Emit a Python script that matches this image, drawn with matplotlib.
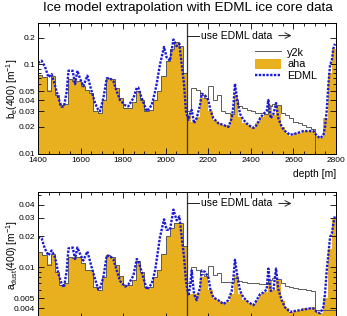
#!/usr/bin/env python
# Ice model extrapolation with EDML ice core data (two log panels)

import numpy as np
import matplotlib
matplotlib.use('Agg')
import matplotlib.pyplot as plt
import matplotlib.ticker as ticker
from matplotlib.lines import Line2D
from matplotlib.patches import Patch

plt.rcParams['font.family'] = ['Liberation Sans', 'DejaVu Sans']
plt.rcParams['mathtext.fontset'] = 'custom'
plt.rcParams['mathtext.rm'] = 'Liberation Sans'
plt.rcParams['mathtext.it'] = 'Liberation Sans'

# Data
bin_edges = np.arange(1400, 2801, 20)

be_aha = [0.076, 0.072, 0.052, 0.075, 0.045, 0.035, 0.036, 0.068, 0.068, 0.065,
          0.058, 0.052, 0.048, 0.030, 0.029, 0.040, 0.070, 0.068, 0.055, 0.042,
          0.033, 0.033, 0.038, 0.050, 0.040, 0.030, 0.031, 0.040, 0.050, 0.075,
          0.110, 0.150, 0.180, 0.160, 0.080,
          0.027, 0.023, 0.026, 0.042, 0.042, 0.030, 0.024, 0.022, 0.021, 0.021,
          0.028, 0.045, 0.026, 0.022, 0.021, 0.020, 0.022, 0.026, 0.028, 0.035,
          0.027, 0.034, 0.020, 0.017, 0.016, 0.017, 0.017, 0.018, 0.018, 0.018,
          0.016, 0.015, 0.025, 0.080, 0.150]

be_y2k = [0.076, 0.072, 0.050, 0.075, 0.045, 0.035, 0.036, 0.068, 0.066, 0.065,
          0.058, 0.052, 0.048, 0.030, 0.029, 0.040, 0.070, 0.068, 0.055, 0.042,
          0.033, 0.033, 0.038, 0.050, 0.040, 0.030, 0.031, 0.040, 0.050, 0.075,
          0.110, 0.150, 0.180, 0.160, 0.080,
          0.030, 0.055, 0.052, 0.045, 0.042, 0.058, 0.040, 0.045, 0.030, 0.029,
          0.028, 0.040, 0.034, 0.033, 0.031, 0.030, 0.029, 0.029, 0.028, 0.034,
          0.036, 0.035, 0.029, 0.027, 0.025, 0.023, 0.022, 0.021, 0.020, 0.019,
          0.008, 0.008, 0.008, 0.008, 0.008]

ad_aha = [0.0140, 0.0130, 0.0107, 0.0135, 0.0090, 0.0068, 0.0070, 0.0125, 0.0125, 0.0125,
          0.0110, 0.0095, 0.0095, 0.0065, 0.0060, 0.0080, 0.0130, 0.0125, 0.0105, 0.0082,
          0.0068, 0.0068, 0.0075, 0.0115, 0.0090, 0.0065, 0.0065, 0.0080, 0.0095, 0.0135,
          0.0200, 0.0240, 0.0270, 0.0270, 0.0160,
          0.0055, 0.0055, 0.0055, 0.0080, 0.0080, 0.0060, 0.0050, 0.0047, 0.0045, 0.0046,
          0.0055, 0.0085, 0.0055, 0.0048, 0.0045, 0.0044, 0.0048, 0.0055, 0.0058, 0.0075,
          0.0060, 0.0075, 0.0047, 0.0040, 0.0037, 0.0038, 0.0039, 0.0040, 0.0040, 0.0041,
          0.0037, 0.0036, 0.0050, 0.0150, 0.0300]

ad_y2k = [0.0140, 0.0130, 0.0105, 0.0135, 0.0090, 0.0068, 0.0070, 0.0125, 0.0122, 0.0125,
          0.0110, 0.0095, 0.0095, 0.0065, 0.0060, 0.0080, 0.0130, 0.0125, 0.0105, 0.0082,
          0.0068, 0.0068, 0.0075, 0.0115, 0.0090, 0.0065, 0.0065, 0.0080, 0.0095, 0.0135,
          0.0200, 0.0240, 0.0270, 0.0270, 0.0160,
          0.0070, 0.0100, 0.0095, 0.0086, 0.0082, 0.0103, 0.0085, 0.0088, 0.0072, 0.0072,
          0.0072, 0.0078, 0.0073, 0.0072, 0.0071, 0.0070, 0.0070, 0.0069, 0.0069, 0.0076,
          0.0078, 0.0077, 0.0070, 0.0066, 0.0064, 0.0063, 0.0062, 0.0061, 0.0060, 0.0059,
          0.0039, 0.0039, 0.0039, 0.0039, 0.0039]

edml_depth = [1400, 1417, 1433, 1449, 1464, 1480, 1496, 1511, 1522, 1535,
              1543, 1563, 1574, 1585, 1597, 1613, 1632, 1652, 1668, 1683,
              1691, 1707, 1723, 1738, 1754, 1770, 1785, 1809, 1824, 1848,
              1864, 1871, 1887, 1911, 1934, 1950, 1957, 1973, 1992, 2004,
              2020, 2036, 2051, 2064, 2075, 2086, 2095, 2106, 2114, 2122,
              2133, 2145, 2161, 2169, 2185, 2200, 2211, 2224, 2247, 2271,
              2294, 2310, 2318, 2325, 2336, 2349, 2365, 2388, 2412, 2427,
              2443, 2459, 2474, 2482, 2493, 2506, 2518, 2529, 2545, 2560,
              2584, 2615, 2647, 2678, 2694, 2709, 2725, 2740, 2748, 2756,
              2764, 2772, 2780, 2787, 2795]

edml_be = [0.104, 0.110, 0.094, 0.072, 0.078, 0.058, 0.042, 0.0336, 0.034, 0.050,
           0.085, 0.085, 0.060, 0.085, 0.070, 0.057, 0.075, 0.050, 0.037, 0.031,
           0.030, 0.042, 0.070, 0.070, 0.065, 0.050, 0.040, 0.035, 0.034, 0.042,
           0.055, 0.055, 0.042, 0.030, 0.035, 0.050, 0.060, 0.100, 0.157, 0.120,
           0.110, 0.190, 0.160, 0.170, 0.100, 0.060, 0.030, 0.024, 0.028, 0.031,
           0.022, 0.025, 0.035, 0.047, 0.045, 0.040, 0.030, 0.025, 0.022, 0.021,
           0.020, 0.025, 0.035, 0.061, 0.040, 0.028, 0.024, 0.021, 0.0195, 0.021,
           0.025, 0.028, 0.030, 0.040, 0.025, 0.028, 0.037, 0.025, 0.020, 0.018,
           0.0163, 0.017, 0.018, 0.018, 0.018, 0.016, 0.015, 0.016, 0.020, 0.030,
           0.060, 0.100, 0.110, 0.150, 0.170]

edml_ad = [0.0196, 0.0190, 0.0150, 0.0130, 0.0145, 0.0125, 0.0086, 0.0069, 0.0064, 0.0093,
           0.0152, 0.0155, 0.0120, 0.0155, 0.0135, 0.0116, 0.0142, 0.0100, 0.0077, 0.0061,
           0.0062, 0.0080, 0.0130, 0.0128, 0.0120, 0.0093, 0.0074, 0.0065, 0.0068, 0.0083,
           0.0120, 0.0116, 0.0090, 0.0061, 0.0069, 0.0093, 0.0116, 0.0196, 0.0290, 0.0230,
           0.0230, 0.0360, 0.0284, 0.0310, 0.0196, 0.0125, 0.0074, 0.0053, 0.0064, 0.0093,
           0.0055, 0.0048, 0.0064, 0.0093, 0.0090, 0.0080, 0.0059, 0.0051, 0.0048, 0.0044,
           0.0048, 0.0059, 0.0080, 0.0118, 0.0083, 0.0059, 0.0051, 0.0046, 0.0043, 0.0048,
           0.0055, 0.0057, 0.0061, 0.0097, 0.0059, 0.0061, 0.0097, 0.0061, 0.0048, 0.0041,
           0.0037, 0.0038, 0.0039, 0.0040, 0.0040, 0.0037, 0.0036, 0.0041, 0.0055, 0.0093,
           0.0135, 0.0196, 0.0211, 0.0260, 0.0317]

be_ticks = [0.01, 0.02, 0.03, 0.04, 0.05, 0.1, 0.2]
ad_ticks = [0.004, 0.005, 0.01, 0.02, 0.03, 0.04]

ORANGE = '#e8af1e'
GRAY = '#5a5a5a'
BLUE = '#1a1ad8'


def draw_panel(ax, aha, y2k, edml, ylim, yticks, ylabel, text_y):
    ax.set_yscale('log')
    ax.stairs(aha, bin_edges, fill=True, color=ORANGE, baseline=1e-5, lw=0)
    ax.stairs(y2k, bin_edges, baseline=None, color=GRAY, lw=0.7)
    ax.plot(edml_depth, edml, color=BLUE, ls=(0, (1, 0.6)), lw=1.7)
    ax.axvline(2100, color='#333333', lw=0.9)
    ax.set_xlim(1400, 2800)
    ax.set_ylim(*ylim)
    ax.yaxis.set_major_locator(ticker.FixedLocator(yticks))
    ax.yaxis.set_major_formatter(ticker.FixedFormatter([('%g' % t) for t in yticks]))
    ax.yaxis.set_minor_locator(ticker.LogLocator(subs=np.arange(2, 10)))
    ax.yaxis.set_minor_formatter(ticker.NullFormatter())
    ax.xaxis.set_major_locator(ticker.MultipleLocator(200))
    ax.xaxis.set_minor_locator(ticker.MultipleLocator(50))
    ax.tick_params(which='both', direction='in', top=True, right=True, labelsize=6, pad=2)
    ax.tick_params(which='major', length=4, width=0.6)
    ax.tick_params(which='minor', length=2, width=0.6)
    for s in ax.spines.values():
        s.set_linewidth(0.7)
    ax.set_ylabel(ylabel, fontsize=7.3)
    ax.yaxis.set_label_coords(-0.062, 0.5)
    # "use EDML data" marker
    ax.plot([2100, 2158], [text_y, text_y], color='#222222', lw=0.7)
    ax.text(2166, text_y, 'use EDML data', fontsize=7.5, va='center', ha='left')
    ax.annotate('', xy=(2604, text_y), xytext=(2518, text_y),
                arrowprops=dict(arrowstyle='->', lw=0.7, color='#222222'))


fig = plt.figure(figsize=(3.47, 3.16), dpi=100)
ax1 = fig.add_axes([0.1095, 0.513, 0.859, 0.414])
ax2 = fig.add_axes([0.1095, -0.01, 0.859, 0.403])

draw_panel(ax1, be_aha, be_y2k, edml_be, (0.01, 0.29), be_ticks,
           r'b$_e$(400) [m$^{-1}$]', 0.21)
draw_panel(ax2, ad_aha, ad_y2k, edml_ad, (0.00315, 0.0535), ad_ticks,
           r'a$_{dust}$(400) [m$^{-1}$]', 0.0413)

ax1.set_xlabel('depth [m]', fontsize=7.4, loc='right', labelpad=4)
ax2.tick_params(labelbottom=False)
ax2.spines['bottom'].set_visible(False)

handles = [Line2D([], [], color=GRAY, lw=0.7),
           Patch(facecolor=ORANGE, edgecolor='none'),
           Line2D([], [], color=BLUE, ls=(0, (1, 0.6)), lw=1.7)]
ax1.legend(handles, ['y2k', 'aha', 'EDML'], loc='upper left',
           bbox_to_anchor=(0.713, 0.85), frameon=False, fontsize=7.8,
           handlelength=2.4, handleheight=1.0, labelspacing=0.12,
           handletextpad=0.6, borderaxespad=0)

fig.text(0.54, 0.974, 'Ice model extrapolation with EDML ice core data',
         ha='center', va='center', fontsize=9.7)

plt.savefig('out.png', dpi=100)
